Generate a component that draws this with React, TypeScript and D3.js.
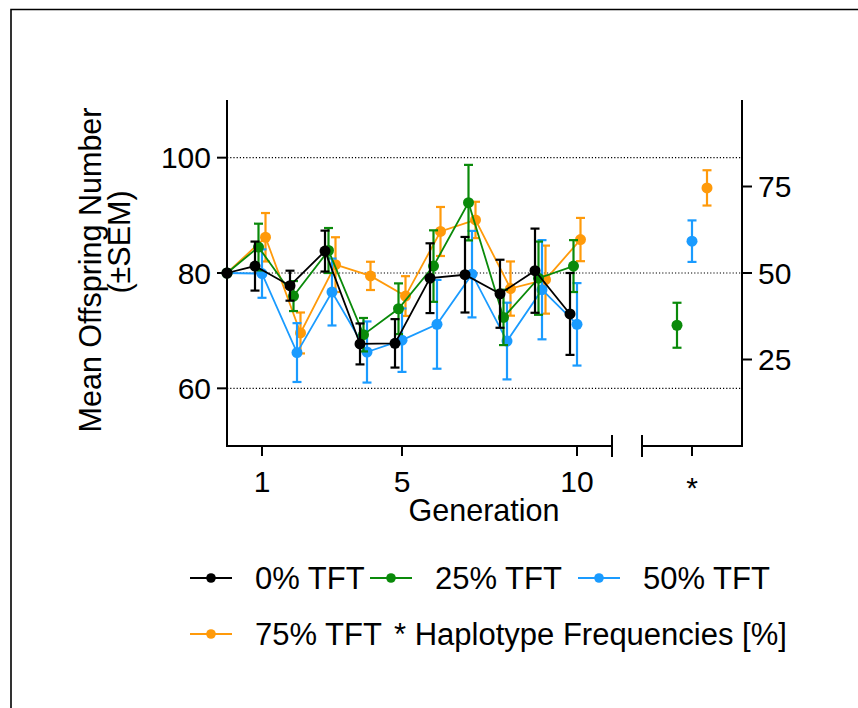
import React from "react";
import * as d3 from "d3";

const generations = [0, 1, 2, 3, 4, 5, 6, 7, 8, 9, 10];
const seriesNames = ["0% TFT", "25% TFT", "50% TFT", "75% TFT"];
const seriesColors = ["#000000", "#0A8A0A", "#1A9BFF", "#FF9A0A"];
const tft0Mean = [80, 81.2, 77.8, 83.8, 67.7, 67.8, 79.1, 79.7, 76.4, 80.4, 72.9];
const tft0Sem = [0, 4.25, 2.6, 3.55, 3.55, 4.2, 6.05, 6.55, 5.9, 7.3, 7.1];
const tft25Mean = [80, 84.5, 76.0, 83.9, 69.3, 73.8, 81.2, 92.2, 72.3, 79.1, 81.2];
const tft25Sem = [0, 4.05, 2.6, 3.9, 2.9, 4.4, 6.2, 6.55, 4.8, 6.35, 4.5];
const tft50Mean = [80, 79.9, 66.2, 76.7, 66.3, 68.35, 71.1, 79.8, 68.2, 77.1, 71.1];
const tft50Sem = [0, 4.2, 5.1, 5.8, 5.3, 5.5, 7.7, 7.5, 6.65, 8.6, 7.15];
const tft75Mean = [80, 86.2, 69.6, 81.45, 79.5, 76.0, 87.2, 89.2, 77.3, 78.85, 85.8];
const tft75Sem = [0, 4.2, 3.55, 4.75, 2.45, 3.45, 4.25, 3.15, 4.7, 5.9, 3.75];
// haplotype frequencies (%) for 25/50/75% TFT
const haploSeries = [1, 2, 3];
const haploMean = [34.9, 59.2, 74.6];
const haploSem = [6.5, 6.0, 5.1];
const leftTicks = [60, 80, 100];
const rightTicks = [25, 50, 75];
const xTicks = [1, 5, 10];

const means = [tft0Mean, tft25Mean, tft50Mean, tft75Mean];
const sems = [tft0Sem, tft25Sem, tft50Sem, tft75Sem];
const dodge = [-0.2, -0.1, 0, 0.1];
const haploDodge = [0, -0.3, 0, 0.3];
const drawOrder = [3, 2, 1, 0];

const FONT = "'Liberation Sans', Arial, sans-serif";

export default function App() {
  const left = 227, right = 742, top = 100, bottom = 446;
  const brk1 = 612, brk2 = 642;
  const x = d3.scaleLinear().domain([0, 11]).range([left, brk1]);
  const xh = d3.scaleLinear().domain([0, 2]).range([brk2, right]);
  const y = d3.scaleLinear().domain([50, 110]).range([bottom, top]);
  const yr = d3.scaleLinear().domain([0, 100]).range([bottom, top]);
  const px = (g: number, s: number) => x(g + (g === 0 ? 0 : dodge[s]));
  const cap = 4.5;

  return (
    <svg width={858} height={708} style={{ position: "absolute", left: 0, top: 0 }} fontFamily={FONT}>
      <rect x={0} y={0} width={858} height={708} fill="#fff" />
      <path d="M11,708 L11,9.5 L858,9.5" fill="none" stroke="#000" strokeWidth={1.6} />
      {/* gridlines */}
      {leftTicks.map((t) => (
        <line key={"g" + t} x1={left} x2={right} y1={y(t)} y2={y(t)} stroke="#000" strokeWidth={1.1} strokeDasharray="1.2,2" />
      ))}
      {/* series */}
      {drawOrder.map((s) => {
        const line = d3.line<number>().x((g) => px(g, s)).y((g, i) => y(means[s][i]));
        return (
          <g key={"s" + s}>
            <path d={line(generations) || ""} fill="none" stroke={seriesColors[s]} strokeWidth={1.8} />
            {generations.map((g, i) => {
              const e = sems[s][i];
              if (!e) return null;
              const cx = px(g, s);
              return (
                <g key={i} stroke={seriesColors[s]} strokeWidth={2.2}>
                  <line x1={cx} x2={cx} y1={y(means[s][i] - e)} y2={y(means[s][i] + e)} />
                  <line x1={cx - cap} x2={cx + cap} y1={y(means[s][i] + e)} y2={y(means[s][i] + e)} />
                  <line x1={cx - cap} x2={cx + cap} y1={y(means[s][i] - e)} y2={y(means[s][i] - e)} />
                </g>
              );
            })}
            {generations.map((g, i) => (
              <circle key={"c" + i} cx={px(g, s)} cy={y(means[s][i])} r={5.5} fill={seriesColors[s]} />
            ))}
          </g>
        );
      })}
      {/* haplotype */}
      {haploSeries.map((s, i) => {
        const cx = xh(1 + haploDodge[s]);
        return (
          <g key={"h" + s} stroke={seriesColors[s]} strokeWidth={2.2}>
            <line x1={cx} x2={cx} y1={yr(haploMean[i] - haploSem[i])} y2={yr(haploMean[i] + haploSem[i])} />
            <line x1={cx - cap} x2={cx + cap} y1={yr(haploMean[i] + haploSem[i])} y2={yr(haploMean[i] + haploSem[i])} />
            <line x1={cx - cap} x2={cx + cap} y1={yr(haploMean[i] - haploSem[i])} y2={yr(haploMean[i] - haploSem[i])} />
            <circle cx={cx} cy={yr(haploMean[i])} r={5.5} fill={seriesColors[s]} stroke="none" />
          </g>
        );
      })}
      {/* axes */}
      <g stroke="#000" strokeWidth={2} fill="none">
        <line x1={left} x2={left} y1={top} y2={bottom + 1} />
        <line x1={right} x2={right} y1={top} y2={bottom + 1} />
        <line x1={left} x2={brk1} y1={bottom} y2={bottom} />
        <line x1={brk1} x2={brk1} y1={bottom - 11} y2={bottom + 11} />
        <line x1={brk2} x2={right} y1={bottom} y2={bottom} />
        <line x1={brk2} x2={brk2} y1={bottom - 11} y2={bottom + 11} />
        {leftTicks.map((t) => (
          <line key={"lt" + t} x1={left - 10} x2={left} y1={y(t)} y2={y(t)} />
        ))}
        {rightTicks.map((t) => (
          <line key={"rt" + t} x1={right} x2={right + 10} y1={yr(t)} y2={yr(t)} />
        ))}
        {xTicks.map((t) => (
          <line key={"xt" + t} x1={x(t)} x2={x(t)} y1={bottom} y2={bottom + 10} />
        ))}
        <line x1={xh(1)} x2={xh(1)} y1={bottom} y2={bottom + 10} />
      </g>
      <g fontSize={30} fill="#000">
        {leftTicks.map((t) => (
          <text key={"ll" + t} x={left - 16} y={y(t)} dy="0.36em" textAnchor="end">{t}</text>
        ))}
        {rightTicks.map((t) => (
          <text key={"rl" + t} x={right + 16} y={yr(t)} dy="0.36em" textAnchor="start">{t}</text>
        ))}
        {xTicks.map((t) => (
          <text key={"xl" + t} x={x(t)} y={492} textAnchor="middle">{t}</text>
        ))}
        <text x={xh(1)} y={498} textAnchor="middle">*</text>
      </g>
      <g fontSize={30.5} fill="#000">
        <text x={484} y={521} textAnchor="middle">Generation</text>
        <text transform="translate(101,270) rotate(-90)" textAnchor="middle">Mean Offspring Number</text>
        <text transform="translate(129.5,242) rotate(-90)" textAnchor="middle">(±SEM)</text>
      </g>
      {/* legend */}
      <g fontSize={31}>
        {[
          { s: 0, lx: 190, ly: 578, tx: 255 },
          { s: 1, lx: 370, ly: 578, tx: 435 },
          { s: 2, lx: 578, ly: 578, tx: 643 },
          { s: 3, lx: 190, ly: 634, tx: 255 },
        ].map((d) => (
          <g key={"lg" + d.s}>
            <line x1={d.lx} x2={d.lx + 42} y1={d.ly} y2={d.ly} stroke={seriesColors[d.s]} strokeWidth={1.8} />
            <circle cx={d.lx + 21} cy={d.ly} r={4.8} fill={seriesColors[d.s]} />
            <text x={d.tx} y={d.ly} dy="0.36em">{seriesNames[d.s]}</text>
          </g>
        ))}
        <text x={394} y={634} dy="0.36em">* Haplotype Frequencies [%]</text>
      </g>
    </svg>
  );
}
